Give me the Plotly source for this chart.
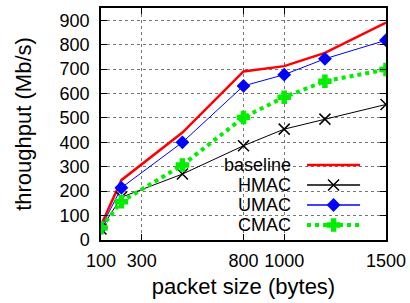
import plotly.graph_objects as go

packet_size = [100, 200, 500, 800, 1000, 1200, 1500]
baseline = [60, 245, 440, 690, 712, 766, 890]
hmac = [45, 175, 270, 386, 454, 495, 555]
umac = [50, 214, 400, 631, 677, 742, 818]
cmac = [50, 157, 307, 502, 585, 650, 698]

x_ticks = [100, 300, 800, 1000, 1500]
y_ticks = [0, 100, 200, 300, 400, 500, 600, 700, 800, 900]

names = ["baseline", "HMAC", "UMAC", "CMAC"]
series = [baseline, hmac, umac, cmac]
colors = ["#ff0000", "#000000", "#0000ff", "#00ee00"]
widths = [2.5, 1, 1, 4]
dashes = ["solid", "solid", "solid", "dot"]
markers = [None, "x-thin", "diamond", "cross"]
msizes = [0, 11, 9, 10]

FONT = "Liberation Sans, Arial, sans-serif"
fig = go.Figure()

for n, s, c, w, d, m, ms in zip(names, series, colors, widths, dashes, markers, msizes):
    mode = "lines" if m is None else "lines+markers"
    marker = dict(symbol=m, size=ms, color=c, line=dict(color=c, width=1.5)) if m else None
    fig.add_trace(go.Scatter(x=packet_size, y=s, mode=mode, name=n,
                             line=dict(color=c, width=w, dash=d),
                             marker=marker, showlegend=False))

# custom gnuplot-style legend (text left, sample right)
leg_y = [0.323, 0.237, 0.151, 0.065]
for n, c, w, d, m, ms, yy in zip(names, colors, widths, dashes, markers, msizes, leg_y):
    fig.add_trace(go.Scatter(x=[0.723, 0.909], y=[yy, yy], mode="lines",
                             line=dict(color=c, width=w if w > 1 else 1.5, dash=d),
                             xaxis="x2", yaxis="y2", showlegend=False, hoverinfo="skip"))
    if m:
        fig.add_trace(go.Scatter(x=[0.816], y=[yy], mode="markers",
                                 marker=dict(symbol=m, size=ms, color=c, line=dict(color=c, width=1.5)),
                                 xaxis="x2", yaxis="y2", showlegend=False, hoverinfo="skip"))
    fig.add_annotation(x=0.674, y=yy, xref="x2", yref="y2", text=n, showarrow=False,
                       xanchor="right", yanchor="middle", font=dict(size=18, color="#000"))

fig.update_layout(
    width=410, height=303,
    margin=dict(l=101, r=24, t=8, b=63, autoexpand=False),
    paper_bgcolor="white", plot_bgcolor="white",
    font=dict(family=FONT, size=18, color="#000"),
    xaxis=dict(range=[100, 1500], tickvals=x_ticks, ticktext=[str(v) for v in x_ticks],
               showgrid=True, gridcolor="#777", griddash="dot", gridwidth=1,
               showline=True, linecolor="#000", linewidth=1.5, mirror="ticks",
               ticks="inside", ticklen=6, tickcolor="#000", zeroline=False,
               automargin=False, ticklabelstandoff=4,
               title=dict(text="packet size (bytes)", standoff=8)),
    yaxis=dict(range=[0, 950], tickvals=y_ticks,
               showgrid=True, gridcolor="#777", griddash="dot", gridwidth=1,
               showline=True, linecolor="#000", linewidth=1.5, mirror="ticks",
               ticks="inside", ticklen=6, tickcolor="#000", zeroline=False,
               automargin=False, ticklabelstandoff=6,
               title=dict(text="throughput (Mb/s)", standoff=22)),
    xaxis2=dict(range=[0, 1], overlaying="x", visible=False, showgrid=False, zeroline=False),
    yaxis2=dict(range=[0, 1], overlaying="y", visible=False, showgrid=False, zeroline=False),
)

fig.write_html("out.html", config={"displayModeBar": False},
               post_script="document.body.style.margin='0';document.body.style.overflow='hidden';")
